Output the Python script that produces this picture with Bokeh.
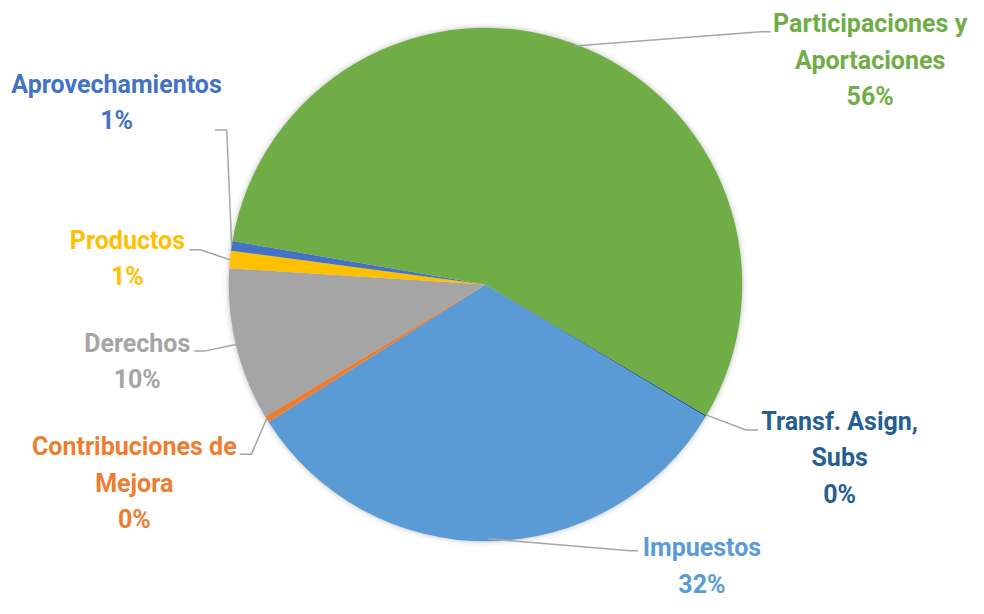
import numpy as np
from bokeh.plotting import figure
from bokeh.models import Range1d, ColumnDataSource
from bokeh.embed import file_html
from bokeh.resources import INLINE
from bokeh.core.properties import value

# ---------------- data ----------------
categories = ["Impuestos", "Contribuciones de Mejora", "Derechos", "Productos",
              "Aprovechamientos", "Participaciones y Aportaciones", "Transf. Asign, Subs"]
shares = [32.4, 0.4, 9.6, 1.1, 0.6, 55.8, 0.1]
colors = ["#5B9BD5", "#ED7D31", "#A5A5A5", "#FFC000", "#4472C4", "#70AD47", "#255E91"]
label_lines = [["Impuestos"], ["Contribuciones de", "Mejora"], ["Derechos"], ["Productos"],
               ["Aprovechamientos"], ["Participaciones y", "Aportaciones"], ["Transf. Asign,", "Subs"]]

# ---------------- layout (reference pixel coords, y down) ----------------
W, H = 968, 598
REF_W, REF_H = 984, 614
CX, CY, R = 493, 291.7, 261
FIRST_ANGLE = 121.0  # degrees clockwise from 12 o'clock
label_x = [713, 136, 139, 129, 118, 884, 853]
label_y0 = [562, 458, 352, 246, 86, 24, 432]
LINE_H = 37.5
elbows = [(640, 565), (255, 466), (207, 360), (203, 256), (230, 133), (773, 32), (758, 441)]
ends = [(648, 565), (243, 466), (197, 360), (192, 256), (218, 133), (783, 32), (770, 441)]
FONT = "Roboto"
FSIZE = "25px"


def Y(img_y):
    return REF_H - img_y


p = figure(width=W, height=H, output_backend="svg", toolbar_location=None,
           x_range=Range1d(0, REF_W), y_range=Range1d(0, REF_H),
           min_border=0, background_fill_color="white", border_fill_color="white")
p.axis.visible = False
p.grid.visible = False
p.outline_line_color = None

# soft shadow
for k, a in [(6, 0.015), (4, 0.025), (2.5, 0.035), (1.2, 0.05)]:
    p.circle(x=[CX], y=[Y(CY)], radius=R + k, fill_color="black", fill_alpha=a, line_color=None)

total = sum(shares)
degs = [s / total * 360 for s in shares]
starts, stops, mids = [], [], []
acc = FIRST_ANGLE
for d in degs:
    starts.append(acc)
    stops.append(acc + d)
    mids.append(acc + d / 2)
    acc += d

src = ColumnDataSource(dict(
    x=[CX] * len(shares), y=[Y(CY)] * len(shares),
    start=[np.radians(90 - s) for s in starts],
    end=[np.radians(90 - e) for e in stops],
    color=colors))
p.wedge(x="x", y="y", radius=R, start_angle="start", end_angle="end",
        direction="clock", fill_color="color", line_color=None, source=src)

# leader lines
xs, ys = [], []
for i, m in enumerate(mids):
    sx = CX + R * np.sin(np.radians(m))
    sy = CY - R * np.cos(np.radians(m))
    xs.append([sx, elbows[i][0], ends[i][0]])
    ys.append([Y(sy), Y(elbows[i][1]), Y(ends[i][1])])
p.multi_line(xs=xs, ys=ys, line_color="#A6A6A6", line_width=1.5)

# labels
tx, ty, tt, tc = [], [], [], []
for i, lines in enumerate(label_lines):
    all_lines = lines + [f"{round(shares[i] / total * 100)}%"]
    for j, t in enumerate(all_lines):
        tx.append(label_x[i])
        ty.append(Y(label_y0[i] + j * LINE_H))
        tt.append(t)
        tc.append(colors[i])
p.text(x=tx, y=ty, text=tt, text_color=tc, text_align="center", text_baseline="middle",
       text_font=value(FONT), text_font_size=FSIZE, text_font_style="bold")

open("out.html", "w").write(file_html(p, INLINE))
